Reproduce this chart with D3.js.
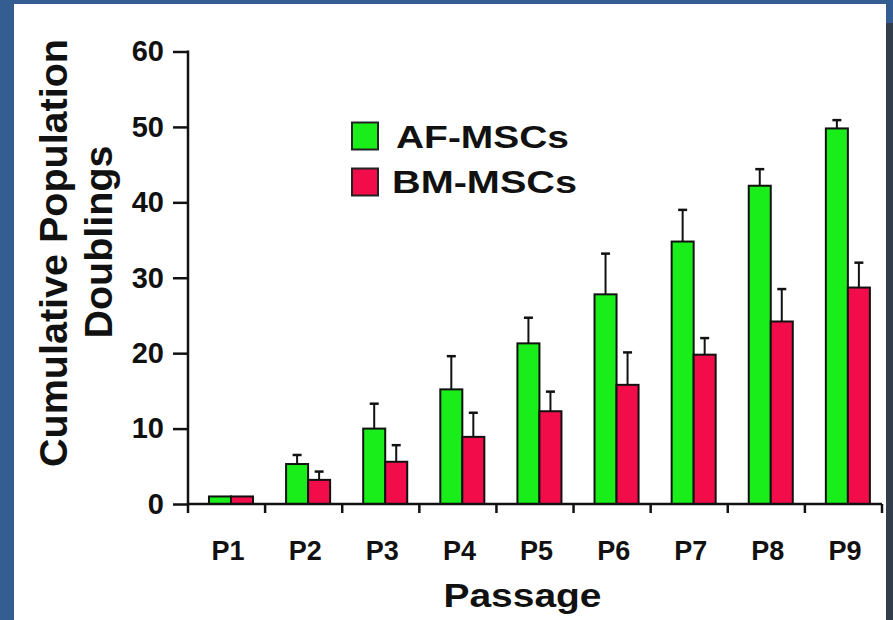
<!DOCTYPE html>
<html>
<head>
<meta charset="utf-8">
<script src="https://cdn.jsdelivr.net/npm/d3@7"></script>
<style>
  html, body { margin: 0; padding: 0; background: #ffffff; }
  svg { display: block; }
  text { font-family: "Liberation Sans", Arial, Helvetica, sans-serif; font-weight: bold; fill: #111; }
</style>
</head>
<body>
<svg id="chart" width="893" height="620"></svg>
<script>
// Cumulative population doublings per passage
const passages = ["P1", "P2", "P3", "P4", "P5", "P6", "P7", "P8", "P9"];
const series = ["AF-MSCs", "BM-MSCs"];
const afMean = [1.0, 5.3, 10.0, 15.2, 21.3, 27.8, 34.8, 42.2, 49.8];
const afErr  = [0.0, 1.2, 3.3, 4.4, 3.4, 5.4, 4.2, 2.2, 1.1];
const bmMean = [1.0, 3.2, 5.6, 8.9, 12.3, 15.8, 19.8, 24.2, 28.7];
const bmErr  = [0.0, 1.1, 2.2, 3.2, 2.6, 4.3, 2.2, 4.3, 3.3];
const yTicks = [0, 10, 20, 30, 40, 50, 60];
const colors = { "AF-MSCs": "#1aee1a", "BM-MSCs": "#f20d4a" };

const svg = d3.select("#chart");

// slide frame
svg.append("rect").attr("x", 0).attr("y", 0).attr("width", 893).attr("height", 620).attr("fill", "#345e92");
svg.append("rect").attr("x", 886).attr("y", 23).attr("width", 7).attr("height", 597).attr("fill", "#333e4d");
svg.append("rect").attr("x", 14).attr("y", 4).attr("width", 872).attr("height", 616).attr("fill", "#ffffff");

const x0 = d3.scaleBand().domain(passages).range([188, 882]).padding(0);
const bw = x0.bandwidth();
const x1 = d3.scaleBand().domain(series).range([bw * 0.272, bw * 0.843]).padding(0);
const y = d3.scaleLinear().domain([0, 60]).range([504, 51.5]);

const rows = passages.map((p, i) => ({
  p,
  vals: [
    { s: "AF-MSCs", v: afMean[i], e: afErr[i] },
    { s: "BM-MSCs", v: bmMean[i], e: bmErr[i] }
  ]
}));

// bars
const groups = svg.append("g").selectAll("g").data(rows).join("g")
  .attr("transform", d => `translate(${x0(d.p)},0)`);

groups.selectAll("rect").data(d => d.vals).join("rect")
  .attr("x", d => x1(d.s))
  .attr("y", d => y(d.v))
  .attr("width", x1.bandwidth())
  .attr("height", d => y(0) - y(d.v))
  .attr("fill", d => colors[d.s])
  .attr("stroke", "#111")
  .attr("stroke-width", 2);

// upper error bars
const eb = groups.selectAll("g.err").data(d => d.vals.filter(v => v.e > 0)).join("g").attr("class", "err");
eb.append("line")
  .attr("x1", d => x1(d.s) + x1.bandwidth() / 2)
  .attr("x2", d => x1(d.s) + x1.bandwidth() / 2)
  .attr("y1", d => y(d.v))
  .attr("y2", d => y(d.v + d.e))
  .attr("stroke", "#111").attr("stroke-width", 2);
eb.append("line")
  .attr("x1", d => x1(d.s) + x1.bandwidth() / 2 - 4.5)
  .attr("x2", d => x1(d.s) + x1.bandwidth() / 2 + 4.5)
  .attr("y1", d => y(d.v + d.e))
  .attr("y2", d => y(d.v + d.e))
  .attr("stroke", "#111").attr("stroke-width", 2.5);

// y axis
const yAxis = svg.append("g").attr("transform", "translate(188,0)")
  .call(d3.axisLeft(y).tickValues(yTicks).tickSize(15).tickPadding(9).tickSizeOuter(0));
yAxis.select(".domain").remove();
yAxis.selectAll(".tick line").attr("stroke", "#111").attr("stroke-width", 2.5);
yAxis.selectAll(".tick text").attr("font-size", 29).attr("font-family", null).attr("fill", "#111");
svg.append("line").attr("x1", 188).attr("x2", 188).attr("y1", y(60) - 1).attr("y2", y(0) + 9)
  .attr("stroke", "#111").attr("stroke-width", 2.5);

// x axis: baseline, group separators and labels
svg.append("line").attr("x1", 188).attr("x2", x0.range()[1]).attr("y1", y(0)).attr("y2", y(0))
  .attr("stroke", "#111").attr("stroke-width", 2.5);
const seps = passages.slice(1).map(p => x0(p)).concat([x0.range()[1]]);
svg.append("g").selectAll("line").data(seps).join("line")
  .attr("x1", d => d).attr("x2", d => d)
  .attr("y1", y(0)).attr("y2", y(0) + 9)
  .attr("stroke", "#111").attr("stroke-width", 2.5);

svg.append("g").selectAll("text").data(passages).join("text")
  .attr("x", p => x0(p) + bw * 0.52)
  .attr("y", 559.5)
  .attr("text-anchor", "middle")
  .attr("font-size", 27)
  .text(p => p);

// axis titles
svg.append("text").attr("x", 522.5).attr("y", 607).attr("text-anchor", "middle")
  .attr("font-size", 33.5).attr("textLength", 158).attr("lengthAdjust", "spacingAndGlyphs")
  .text("Passage");
svg.append("text").attr("transform", "translate(67,253) rotate(-90)").attr("text-anchor", "middle")
  .attr("font-size", 39.5).text("Cumulative Population");
svg.append("text").attr("transform", "translate(112,242) rotate(-90)").attr("text-anchor", "middle")
  .attr("font-size", 39.5).text("Doublings");

// legend
const legend = [
  { s: "AF-MSCs", ry: 122.5, ty: 148, tx: 396, fs: 30.5, len: 173 },
  { s: "BM-MSCs", ry: 168.5, ty: 193, tx: 392, fs: 31.5, len: 185 }
];
const lg = svg.append("g").selectAll("g").data(legend).join("g");
lg.append("rect").attr("x", 352).attr("y", d => d.ry).attr("width", 26).attr("height", 27)
  .attr("fill", d => colors[d.s]).attr("stroke", "#222").attr("stroke-width", 2);
lg.append("text").attr("x", d => d.tx).attr("y", d => d.ty).attr("font-size", d => d.fs)
  .attr("textLength", d => d.len).attr("lengthAdjust", "spacingAndGlyphs")
  .text(d => d.s);
</script>
</body>
</html>
